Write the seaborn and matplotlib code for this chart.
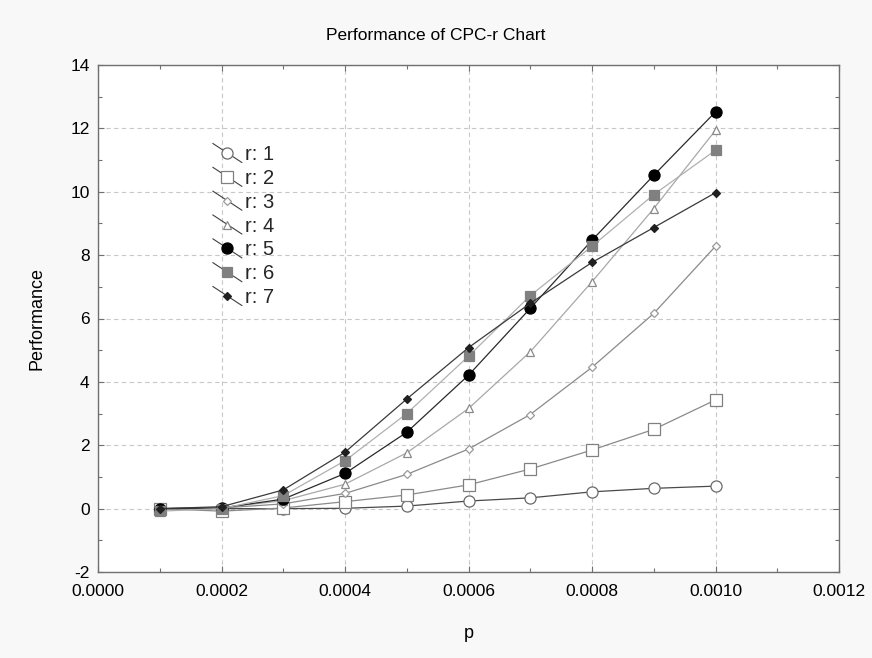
import numpy as np
import pandas as pd
import matplotlib
matplotlib.use("Agg")
import matplotlib.pyplot as plt
import seaborn as sns
from matplotlib.legend_handler import HandlerLine2D
from matplotlib.ticker import MultipleLocator, FormatStrFormatter

# ---- data ----
p_values = [0.0001, 0.0002, 0.0003, 0.0004, 0.0005, 0.0006, 0.0007, 0.0008, 0.0009, 0.0010]
series_names = ["r: 1", "r: 2", "r: 3", "r: 4", "r: 5", "r: 6", "r: 7"]
r1 = [0.00, 0.00, 0.00, 0.01, 0.08, 0.24, 0.34, 0.53, 0.64, 0.71]
r2 = [0.00, -0.08, 0.02, 0.22, 0.43, 0.75, 1.25, 1.85, 2.50, 3.43]
r3 = [0.00, 0.02, 0.15, 0.48, 1.08, 1.88, 2.97, 4.46, 6.16, 8.28]
r4 = [0.00, 0.03, 0.25, 0.77, 1.76, 3.16, 4.95, 7.16, 9.47, 11.94]
r5 = [0.00, 0.02, 0.30, 1.11, 2.41, 4.21, 6.32, 8.47, 10.52, 12.52]
r6 = [-0.08, 0.00, 0.41, 1.51, 3.00, 4.81, 6.72, 8.28, 9.91, 11.31]
r7 = [0.00, 0.06, 0.59, 1.78, 3.46, 5.08, 6.48, 7.77, 8.87, 9.97]
all_series = [r1, r2, r3, r4, r5, r6, r7]

title = "Performance of CPC-r Chart"
xlabel = "p"
ylabel = "Performance"

# ---- styles ----
markers = ["o", "s", "D", "^", "o", "s", "D"]
msizes = [8, 8, 3.8, 5.5, 8, 7.5, 4]
faces = ["white", "white", "white", "white", "black", "#808080", "#202020"]
edges = ["#6a6a6a", "#808080", "#9a9a9a", "#8a8a8a", "black", "#808080", "#202020"]
lines = ["#4a4a4a", "#8a8a8a", "#8a8a8a", "#a8a8a8", "#2a2a2a", "#b0b0b0", "#3a3a3a"]

sns.set_theme(style="white")
plt.rcParams["font.family"] = ["Liberation Sans", "DejaVu Sans"]
plt.rcParams["axes.unicode_minus"] = False

fig = plt.figure(figsize=(8.72, 6.58), dpi=100, facecolor="#f8f8f8")
ax = fig.add_axes([98 / 872, 1 - 572 / 658, 741 / 872, 507 / 658])
ax.set_facecolor("white")

rows = []
for name, vals in zip(series_names, all_series):
    for p, v in zip(p_values, vals):
        rows.append({"p": p, "val": v, "series": name})
df = pd.DataFrame(rows)

handles = []
for i, name in enumerate(series_names):
    sub = df[df["series"] == name]
    sns.lineplot(data=sub, x="p", y="val", ax=ax, color=lines[i], linewidth=0.9,
                 marker=markers[i], markersize=msizes[i], markerfacecolor=faces[i],
                 markeredgecolor=edges[i], markeredgewidth=0.9, legend=False, zorder=3 + i)
    handles.append(ax.lines[-1])

ax.set_xlim(0, 0.0012)
ax.set_ylim(-2, 14)
ax.xaxis.set_major_locator(MultipleLocator(0.0002))
ax.xaxis.set_minor_locator(MultipleLocator(0.0001))
ax.yaxis.set_major_locator(MultipleLocator(2))
ax.yaxis.set_minor_locator(MultipleLocator(1))
ax.xaxis.set_major_formatter(FormatStrFormatter("%.4f"))
ax.grid(True, which="major", color="#c8c8c8", linestyle=(0, (4, 3)), linewidth=0.8)
ax.set_axisbelow(True)
for s in ax.spines.values():
    s.set_color("#707070")
    s.set_linewidth(1.0)
    s.set_visible(True)
ax.tick_params(which="both", direction="in", top=True, right=True, bottom=True, left=True,
               color="#707070", width=0.8)
ax.tick_params(which="major", length=4)
ax.tick_params(which="minor", length=3)
ax.tick_params(axis="x", which="major", labelsize=12.5, pad=9, labelcolor="black")
ax.tick_params(axis="y", which="major", labelsize=12.5, pad=6, labelcolor="black")

ax.set_xlabel(xlabel, fontsize=13, labelpad=18, color="black")
ax.set_ylabel(ylabel, fontsize=13, labelpad=18, color="black")
fig.text(0.5, 1 - 36 / 658, title, ha="center", va="center", fontsize=12.5, color="black")


class DiagHandler(HandlerLine2D):
    def create_artists(self, legend, orig_handle, xdescent, ydescent, width, height,
                       fontsize, trans):
        artists = super().create_artists(legend, orig_handle, xdescent, ydescent,
                                         width, height, fontsize, trans)
        line = artists[0]
        x0 = -xdescent
        x1 = x0 + width
        xm = (x0 + x1) / 2
        ymid = -ydescent + height / 2
        dy = height * 0.68
        line.set_data([x0, xm, x1], [ymid + dy, ymid, ymid - dy])
        line.set_color("#404040")
        line.set_linewidth(0.8)
        return artists


leg = ax.legend(handles, series_names, loc="upper left", bbox_to_anchor=(0.144, 0.858),
                frameon=False, fontsize=14.5, handlelength=1.45, handletextpad=0.15,
                labelspacing=0.24, borderaxespad=0, numpoints=1,
                handler_map={h: DiagHandler() for h in handles})

fig.savefig("out.png", dpi=100, facecolor=fig.get_facecolor())
